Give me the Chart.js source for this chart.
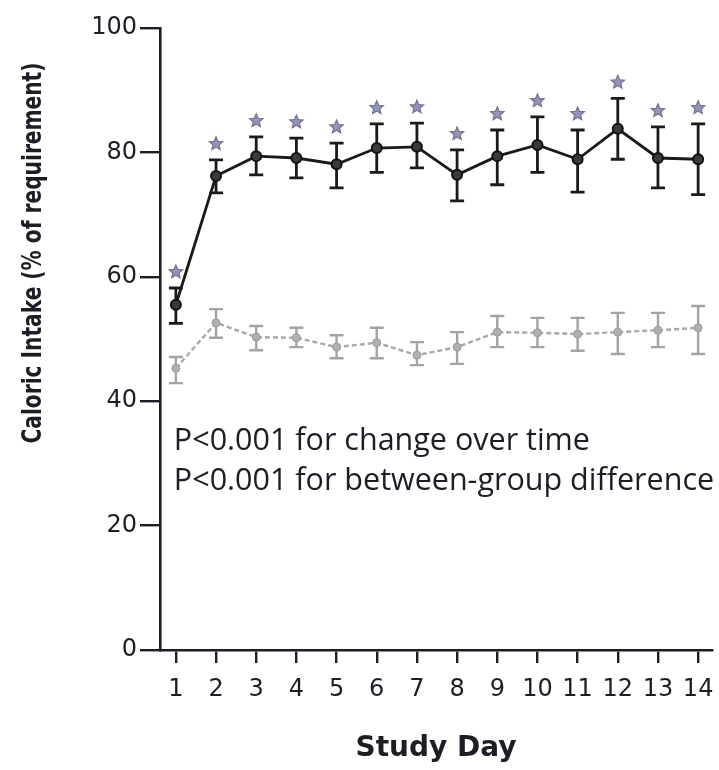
<!DOCTYPE html>
<html>
<head>
<meta charset="utf-8">
<script src="https://cdn.jsdelivr.net/npm/chart.js@4.4.1/dist/chart.umd.min.js"></script>
<style>
  html, body { margin: 0; padding: 0; background: #fff; }
  #wrap { width: 719px; height: 770px; }
</style>
</head>
<body>
<div id="wrap"><canvas id="chart" width="719" height="770"></canvas></div>
<script>
// study days
var days = [1, 2, 3, 4, 5, 6, 7, 8, 9, 10, 11, 12, 13, 14];

// black series (intervention group), mean and error bar ends
var groupA = [55.5, 76.2, 79.4, 79.1, 78.1, 80.7, 80.9, 76.4, 79.4, 81.2, 78.9, 83.8, 79.1, 78.9];
var groupAHi = [58.2, 78.8, 82.5, 82.3, 81.5, 84.6, 84.7, 80.4, 83.6, 85.7, 83.6, 88.7, 84.1, 84.6];
var groupALo = [52.5, 73.5, 76.4, 75.9, 74.3, 76.8, 77.5, 72.2, 74.8, 76.8, 73.6, 78.9, 74.3, 73.2];

// gray series (control group)
var groupB = [45.3, 52.6, 50.3, 50.2, 48.7, 49.4, 47.4, 48.7, 51.1, 51.0, 50.8, 51.1, 51.4, 51.8];
var groupBHi = [47.1, 54.8, 52.1, 51.8, 50.6, 51.8, 49.5, 51.1, 53.7, 53.4, 53.4, 54.2, 54.2, 55.3];
var groupBLo = [42.9, 50.2, 48.2, 48.7, 46.9, 46.9, 45.8, 46.0, 48.7, 48.7, 48.1, 47.6, 48.7, 47.6];

// significance stars per day
var starred = [true, true, true, true, true, true, true, true, true, true, true, true, true, true];

var yTicks = [0, 20, 40, 60, 80, 100];
var notes = ['P<0.001 for change over time', 'P<0.001 for between-group difference'];
var yTitle = 'Caloric Intake (% of requirement)';

var ink = '#1d1d26';

function pts(vals) {
    return days.map((d, i) => ({ x: d, y: vals[i] }));
}

function drawStar(ctx, cx, cy, r) {
    ctx.beginPath();
    for (let k = 0; k < 10; k++) {
        let rad = k % 2 === 0 ? r : r * 0.45;
        let a = -Math.PI / 2 + k * Math.PI / 5;
        ctx.lineTo(cx + rad * Math.cos(a), cy + rad * Math.sin(a));
    }
    ctx.closePath();
    ctx.fillStyle = '#8e96bc';
    ctx.fill();
    ctx.strokeStyle = '#7a6f8a';
    ctx.lineWidth = 1.2;
    ctx.stroke();
}

var extras = {
    id: 'extras',
    beforeDatasetsDraw(chart) {
        var ctx = chart.ctx, xs = chart.scales.x, ys = chart.scales.y;
        var bars = [
            { hi: groupBHi, lo: groupBLo, color: '#a3a3a3', w: 2.4 },
            { hi: groupAHi, lo: groupALo, color: '#1a1a1a', w: 2.8 }
        ];
        ctx.save();
        bars.forEach(b => {
            ctx.strokeStyle = b.color;
            ctx.lineWidth = b.w;
            days.forEach((d, i) => {
                var x = xs.getPixelForValue(d);
                var y1 = ys.getPixelForValue(b.hi[i]);
                var y2 = ys.getPixelForValue(b.lo[i]);
                ctx.beginPath();
                ctx.moveTo(x, y1); ctx.lineTo(x, y2);
                ctx.moveTo(x - 7, y1); ctx.lineTo(x + 7, y1);
                ctx.moveTo(x - 7, y2); ctx.lineTo(x + 7, y2);
                ctx.stroke();
            });
        });
        ctx.restore();
    },
    afterDatasetsDraw(chart) {
        var ctx = chart.ctx, xs = chart.scales.x, ys = chart.scales.y;
        ctx.save();
        days.forEach((d, i) => {
            if (starred[i]) {
                drawStar(ctx, xs.getPixelForValue(d), ys.getPixelForValue(groupAHi[i]) - 16, 7);
            }
        });

        ctx.fillStyle = ink;
        ctx.font = '500 30.5px "Open Sans", "Noto Sans", sans-serif';
        ctx.textAlign = 'left';
        ctx.textBaseline = 'middle';
        notes.forEach((t, i) => {
            ctx.fillText(t, xs.getPixelForValue(1) - 2, ys.getPixelForValue(33.5) + i * 40);
        });

        // y axis title, squeezed to the reference's length
        ctx.font = 'bold 27px "DejaVu Sans", sans-serif';
        var w = ctx.measureText(yTitle).width;
        ctx.translate(34, 253);
        ctx.rotate(-Math.PI / 2);
        ctx.scale(381 / w, 1);
        ctx.textAlign = 'center';
        ctx.fillText(yTitle, 0, 0);
        ctx.restore();
    }
};

new Chart(document.getElementById('chart'), {
    type: 'line',
    data: {
        datasets: [{
            data: pts(groupB),
            borderColor: '#a8a8a8',
            borderWidth: 2.4,
            borderDash: [5, 3],
            pointRadius: 4,
            pointBackgroundColor: '#b0b0b0',
            pointBorderColor: '#999',
            pointBorderWidth: 1
        }, {
            data: pts(groupA),
            borderColor: '#1a1a1a',
            borderWidth: 2.8,
            pointRadius: 5,
            pointBackgroundColor: '#3a3a3a',
            pointBorderColor: '#111',
            pointBorderWidth: 2
        }]
    },
    options: {
        responsive: false,
        animation: false,
        events: [],
        layout: { padding: { top: 28, right: 3, left: 0, bottom: 0 } },
        plugins: { legend: { display: false }, tooltip: { enabled: false } },
        scales: {
            x: {
                type: 'linear',
                min: 0.605,
                max: 14.345,
                afterBuildTicks: s => { s.ticks = days.map(v => ({ value: v })); },
                afterFit: s => { s.height = 120; s.paddingLeft = 0; s.paddingRight = 0; },
                border: { color: ink, width: 2.6 },
                grid: { drawOnChartArea: false, color: ink, lineWidth: 2.4, tickLength: 13 },
                ticks: {
                    color: ink,
                    padding: 12,
                    autoSkip: false,
                    maxRotation: 0,
                    font: { family: '"DejaVu Sans", sans-serif', size: 24 }
                },
                title: {
                    display: true,
                    text: 'Study Day',
                    color: ink,
                    padding: { top: 9 },
                    font: { family: '"DejaVu Sans", sans-serif', size: 28, weight: 'bold' }
                }
            },
            y: {
                min: 0,
                max: 100,
                afterBuildTicks: s => { s.ticks = yTicks.map(v => ({ value: v })); },
                afterFit: s => { s.width = 160; },
                border: { color: ink, width: 2.6 },
                grid: { drawOnChartArea: false, color: ink, lineWidth: 2.4, tickLength: 20 },
                ticks: {
                    color: ink,
                    padding: 3,
                    font: { family: '"DejaVu Sans", sans-serif', size: 24 }
                }
            }
        }
    },
    plugins: [extras]
});
</script>
</body>
</html>
